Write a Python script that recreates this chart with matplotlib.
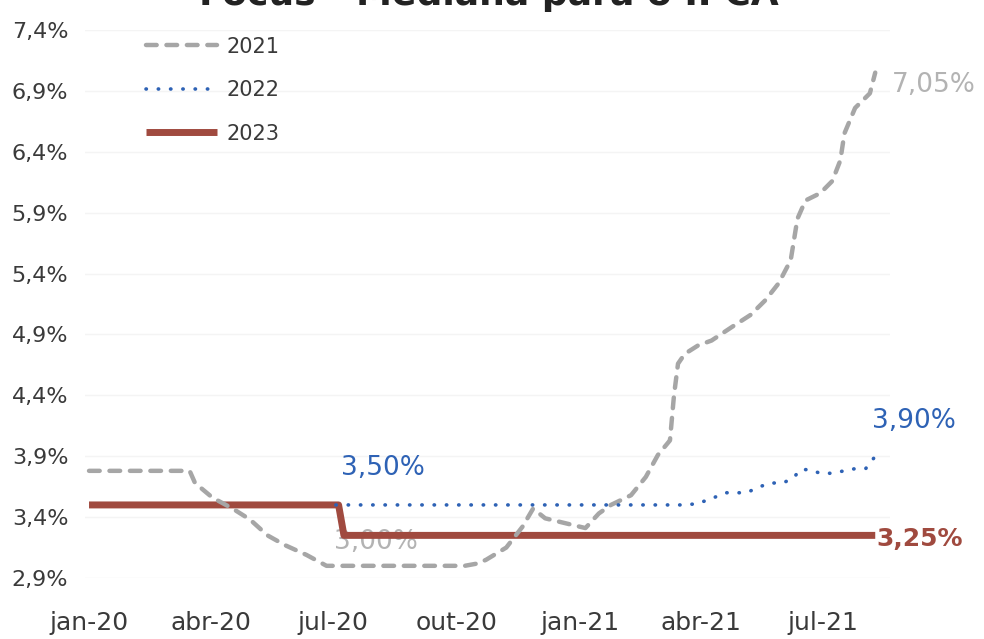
import numpy as np
import pandas as pd
import matplotlib
matplotlib.use("Agg")
import matplotlib.pyplot as plt

# Focus survey - median IPCA expectations
dates_2021 = ["2020-01-01", "2020-03-16", "2020-03-20", "2020-04-02", "2020-04-17",
              "2020-04-30", "2020-05-13", "2020-05-26", "2020-06-11", "2020-06-26",
              "2020-10-07", "2020-10-17", "2020-10-23", "2020-11-07", "2020-11-19",
              "2020-11-27", "2020-12-06", "2020-12-21", "2021-01-05", "2021-01-15",
              "2021-01-24", "2021-02-08", "2021-02-19", "2021-02-28", "2021-03-09",
              "2021-03-12", "2021-03-15", "2021-03-20", "2021-03-30", "2021-04-09",
              "2021-04-24", "2021-05-08", "2021-05-19", "2021-05-29", "2021-06-07",
              "2021-06-12", "2021-06-18", "2021-06-29", "2021-07-08", "2021-07-14",
              "2021-07-17", "2021-07-25", "2021-08-05", "2021-08-09"]
ipca_2021 = [3.78, 3.78, 3.68, 3.56, 3.47,
             3.38, 3.25, 3.17, 3.09, 3.00,
             3.00, 3.02, 3.05, 3.15, 3.32,
             3.47, 3.39, 3.35, 3.31, 3.43,
             3.50, 3.58, 3.73, 3.91, 4.03,
             4.40, 4.66, 4.74, 4.81, 4.85,
             4.96, 5.06, 5.18, 5.32, 5.51,
             5.85, 6.00, 6.06, 6.16, 6.33,
             6.55, 6.76, 6.88, 7.05]

dates_2022 = ["2020-07-03", "2021-03-20", "2021-03-29", "2021-04-06", "2021-04-20",
              "2021-05-05", "2021-05-15", "2021-05-23", "2021-06-01", "2021-06-09",
              "2021-06-14", "2021-06-21", "2021-06-29", "2021-07-07", "2021-07-17",
              "2021-07-26", "2021-08-02", "2021-08-09"]
ipca_2022 = [3.50, 3.50, 3.51, 3.54, 3.60,
             3.60, 3.65, 3.68, 3.68, 3.72,
             3.79, 3.79, 3.76, 3.76, 3.78,
             3.80, 3.80, 3.90]

dates_2023 = ["2020-01-01", "2020-07-05", "2020-07-09", "2021-08-09"]
ipca_2023 = [3.50, 3.50, 3.25, 3.25]

yticks = [2.9, 3.4, 3.9, 4.4, 4.9, 5.4, 5.9, 6.4, 6.9, 7.4]
xtick_dates = ["2020-01-01", "2020-04-01", "2020-07-01", "2020-10-01",
               "2021-01-01", "2021-04-01", "2021-07-01"]
xtick_labels = ["jan-20", "abr-20", "jul-20", "out-20", "jan-21", "abr-21", "jul-21"]

c21 = "#a6a6a6"
c22 = "#2e62b5"
c23 = "#a04a3f"
txt = "#3a3a3a"

fig = plt.figure(figsize=(9.84, 6.39), dpi=100)
ax = fig.add_axes([85 / 984, 1 - 578 / 639, 805 / 984, 548 / 639])

x21 = pd.to_datetime(dates_2021)
x22 = pd.to_datetime(dates_2022)
x23 = pd.to_datetime(dates_2023)

ax.plot(x21, ipca_2021, color=c21, lw=3.2, dashes=(2.4, 2.2),
        dash_capstyle="round", label="2021", zorder=3)
ax.plot(x22, ipca_2022, color=c22, lw=2.6, dashes=(0.1, 3.3),
        dash_capstyle="round", label="2022", zorder=3)
ax.plot(x23, ipca_2023, color=c23, lw=5.0, solid_capstyle="butt",
        label="2023", zorder=2)

ax.set_xlim(pd.Timestamp("2019-12-29"), pd.Timestamp("2021-08-20"))
ax.set_ylim(2.9, 7.4)
ax.set_yticks(yticks)
ax.set_yticklabels([f"{v:.1f}".replace(".", ",") + "%" for v in yticks])
ax.set_xticks(pd.to_datetime(xtick_dates))
ax.set_xticklabels(xtick_labels)
ax.tick_params(axis="both", length=0, colors=txt)
ax.tick_params(axis="y", pad=12, labelsize=16)
ax.tick_params(axis="x", pad=24, labelsize=18)
for s in ax.spines.values():
    s.set_visible(False)
ax.grid(axis="y", color="#f4f4f4", lw=1)
ax.set_axisbelow(True)

# value labels
ax.annotate("7,05%", (x21[-1], ipca_2021[-1]), xytext=(17, -12),
            textcoords="offset pixels", color="#b3b3b3", fontsize=19,
            va="center", ha="left")
ax.annotate("3,90%", (x22[-1], ipca_2022[-1]), xytext=(-3, 35),
            textcoords="offset pixels", color=c22, fontsize=19,
            va="center", ha="left")
ax.annotate("3,25%", (x23[-1], ipca_2023[-1]), xytext=(1, -4),
            textcoords="offset pixels", color=c23, fontsize=18,
            fontweight="bold", va="center", ha="left")
ax.annotate("3,50%", (x22[0], ipca_2022[0]), xytext=(47, 37),
            textcoords="offset pixels", color=c22, fontsize=19,
            va="center", ha="center")
ax.annotate("3,00%", (x23[2], ipca_2023[2]), xytext=(32, -7),
            textcoords="offset pixels", color="#b3b3b3", fontsize=19,
            va="center", ha="center", zorder=1)

leg = ax.legend(loc="upper left", bbox_to_anchor=(0.053, 1.022), frameon=False,
                fontsize=15, handlelength=3.4, handletextpad=0.45,
                labelspacing=1.13, labelcolor=txt)

# title, cut off by the top edge as in the source image
fig.text(0.497, 1 - 5 / 639, "Focus - Mediana para o IPCA", ha="center",
         va="baseline", fontsize=26, fontweight="bold", color="#222222")

fig.savefig("out.png", dpi=100)
